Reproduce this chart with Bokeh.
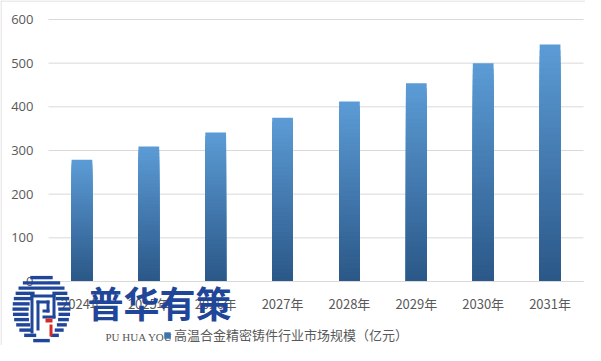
import numpy as np
from bokeh.plotting import figure
from bokeh.models import Range1d, Legend, LegendItem, FixedTicker
from bokeh.embed import file_html
from bokeh.resources import INLINE
from bokeh.core.properties import value

years = ["2024年", "2025年", "2026年", "2027年", "2028年", "2029年", "2030年", "2031年"]
market = [279, 309, 341, 375, 412, 454, 500, 543]
series_name = "高温合金精密铸件行业市场规模（亿元）"
y_ticks = [0, 100, 200, 300, 400, 500, 600]

W, H = 585, 345
PL, PR, PT, ZERO = 48, 583, 19, 281      # plot-area edges in page pixels
SX = (PR - PL) / len(years)              # pixels per category
K = (ZERO - PT) / 600.0                  # pixels per unit

def dx(px):
    return (px - PL) / SX

def dy(py):
    return (ZERO - py) / K

p = figure(x_range=Range1d(dx(0), dx(W)), y_range=Range1d(dy(H), dy(0)), width=W, height=H,
           output_backend="svg", toolbar_location=None,
           min_border_left=0, min_border_right=0, min_border_top=0, min_border_bottom=0)
p.outline_line_color = None
p.xgrid.grid_line_color = None
p.ygrid.grid_line_color = None

pos = [i + 0.5 for i in range(len(years))]

# horizontal gridlines at the y ticks across the plot area
p.segment(x0=0, x1=len(years), y0=y_ticks, y1=y_ticks, line_color="#d9d9d9", line_width=1)

# gradient bars (light top -> dark bottom)
top_c = np.array([91, 155, 213])
bot_c = np.array([43, 88, 136])
N = 40
xs, tops, cols = [], [], []
for i in reversed(range(N)):
    f = i / (N - 1)
    c = bot_c + (top_c - bot_c) * f
    for x, v in zip(pos, market):
        xs.append(x)
        tops.append(v * (i + 1) / N)
        cols.append("#%02x%02x%02x" % tuple(int(round(t)) for t in c))
p.vbar(x=xs, bottom=0, top=tops, width=0.31, fill_color=cols, line_color=None)

# y axis
p.yaxis.fixed_location = 0
p.yaxis.ticker = FixedTicker(ticks=y_ticks)
p.yaxis.axis_line_color = None
p.yaxis.major_tick_line_color = None
p.yaxis.minor_tick_line_color = None
p.yaxis.major_tick_out = 0
p.yaxis.major_label_text_color = "#595959"
p.yaxis.major_label_text_font = "Open Sans"
p.yaxis.major_label_text_font_size = "13px"
p.yaxis.major_label_standoff = 15

# x axis
p.xaxis.fixed_location = 0
p.xaxis.bounds = (0, len(years))
p.xaxis.ticker = FixedTicker(ticks=pos)
p.xaxis.major_label_overrides = {x: y for x, y in zip(pos, years)}
p.xaxis.axis_line_color = "#d9d9d9"
p.xaxis.major_tick_line_color = None
p.xaxis.minor_tick_line_color = None
p.xaxis.major_tick_out = 0
p.xaxis.major_label_text_color = "#595959"
p.xaxis.major_label_text_font = "Noto Sans CJK SC"
p.xaxis.major_label_text_font_size = "13px"
p.xaxis.major_label_standoff = 12

# legend
swatch = p.vbar(x=[pos[0]], top=[0], width=0.3, fill_color="#3d72ad", line_color=None, visible=False)
legend = Legend(items=[LegendItem(label=series_name, renderers=[swatch])],
                location=(163, 1), orientation="horizontal",
                label_text_font="Noto Sans CJK SC", label_text_font_size="13px",
                label_text_color="#595959", glyph_width=8, glyph_height=8,
                label_standoff=3, padding=0, margin=0, border_line_color=None,
                background_fill_alpha=0)
p.add_layout(legend, "center")

# chart border (left and top edges)
p.segment(x0=[dx(0.5), dx(0)], x1=[dx(0.5), dx(W)], y0=[dy(0), dy(0.5)], y1=[dy(H), dy(0.5)],
          line_color="#d9d9d9", line_width=1)

# watermark logo
blue = "#1f4699"
red = "#d42a2a"
L, R, T, B, C = [], [], [], [], []

def box(l, r, t, b, color):
    L.append(dx(l)); R.append(dx(r)); T.append(dy(t)); B.append(dy(b)); C.append(color)

cx, cy, rx, ry = 41, 308, 29, 33.5
icx, icy, irx, iry = 43, 313, 15, 25
for kk in range(13):
    yc = cy - ry + 2.6 + kk * 5.25
    t, b = yc - 1.7, yc + 1.7
    d = (yc - cy) / ry
    if abs(d) >= 1:
        continue
    half = rx * np.sqrt(1 - d * d)
    di = (yc - icy) / iry
    if abs(di) < 1:
        ih = irx * np.sqrt(1 - di * di)
        if icx - ih > cx - half:
            box(cx - half, icx - ih, t, b, blue)
        if icx + ih < cx + half:
            box(icx + ih, cx + half, t, b, blue)
    else:
        box(cx - half, cx + half, t, b, blue)
box(30, 33, 294, 333, blue)
box(30, 55, 294, 297, blue)
box(52, 55, 294, 318, blue)
box(42, 55, 315, 318, blue)
box(36, 39, 300, 330, blue)
box(36, 49, 300, 303, blue)
box(46, 49, 300, 312, blue)
box(42, 49, 309, 312, blue)
box(45, 52, 318, 322, red)
box(49, 52, 324, 336, red)
p.quad(left=L, right=R, top=T, bottom=B, fill_color=C, line_color=None, level="overlay")

p.text(x=[dx(87)], y=[dy(275)], text=["普华有策"],
       text_font=value("Noto Sans CJK SC"), text_font_style="bold", text_font_size="36px",
       text_color=blue, text_baseline="top", text_align="left", level="overlay")
p.text(x=[dx(105)], y=[dy(336)], text=["PU HUA YOU"],
       text_font=value("Liberation Serif"), text_font_size="11px",
       text_color="#555555", text_baseline="middle", text_align="left", level="overlay")

open("out.html", "w").write(file_html(p, INLINE))
